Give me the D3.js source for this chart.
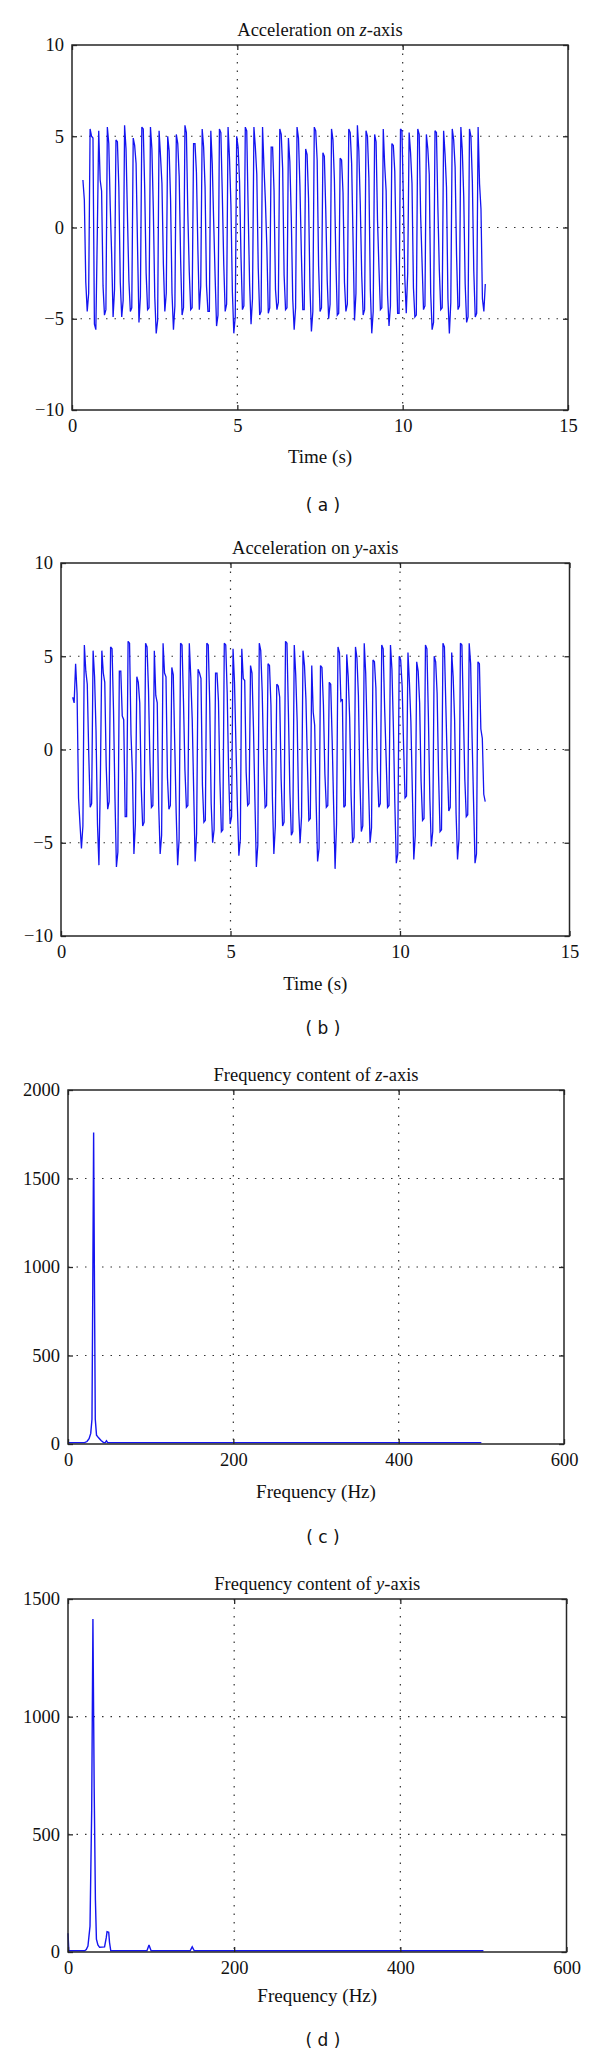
<!DOCTYPE html>
<html>
<head>
<meta charset="utf-8">
<script src="https://cdn.jsdelivr.net/npm/d3@7"></script>
<style>
  body { margin: 0; background: #fff; }
  svg { display: block; }
</style>
</head>
<body>
<div id="chart"></div>
<script>
// ---- data ----

// time axis ticks (a, b)
const timeTicks = [0, 5, 10, 15];
const accelTicks = [-10, -5, 0, 5, 10];
// frequency axis ticks (c, d)
const freqTicks = [0, 200, 400, 600];
const zFreqTicks = [0, 500, 1000, 1500, 2000];
const yFreqTicks = [0, 500, 1000, 1500];

// acceleration on z-axis, sampled every zDt seconds starting at zT0
const zT0 = 0.33;
const zDt = 0.04346;
const zAccel = [
  2.6, 1.5, -3.0, -4.6, -3.6,
  5.4, 5.0, 4.9, -5.3, -5.6, -0.4,
  5.3, 2.6, 2.0, -3.2, -4.8, -4.5,
  5.5, 4.6, 1.2, -1.5, -4.9, -3.4,
  4.8, 4.7, 2.2, -3.0, -4.9, -4.0,
  5.6, 4.3, 0.6, -2.9, -4.6, -4.4,
  4.9, 4.5, 3.5, -1.0, -5.2, -3.8,
  5.5, 5.4, 2.1, -2.5, -4.5, -4.4,
  5.5, 4.3, 1.0, -3.8, -5.8, -5.1,
  5.3, 3.9, 2.4, -2.0, -4.6, -3.6,
  5.0, 4.2, 1.5, -3.6, -5.6, -4.3,
  5.1, 4.6, 2.8, -1.8, -4.8, -4.4,
  5.6, 5.2, 0.8, -2.4, -4.5, -4.4,
  4.6, 4.6, 3.0, -1.2, -4.5, -3.2,
  5.4, 4.4, 2.2, -3.2, -4.6, -4.6,
  5.3, 3.5, 0.3, -2.7, -5.4, -4.8,
  5.4, 5.2, 1.8, -2.0, -4.6, -4.2,
  5.5, 3.8, 1.2, -3.5, -5.8, -4.9,
  5.0, 4.4, 2.5, -1.6, -4.5, -4.3,
  5.5, 5.3, 0.9, -3.1, -5.3, -3.9,
  5.5, 4.4, 2.9, -2.2, -4.8, -4.6,
  5.5, 3.3, 1.4, -1.1, -4.7, -4.4,
  4.4, 4.4, 2.0, -3.4, -4.5, -4.1,
  5.4, 5.1, 3.2, -2.6, -4.5, -4.4,
  4.9, 3.6, 0.5, -3.9, -5.6, -4.4,
  5.5, 4.9, 2.3, -1.4, -4.5, -4.5,
  4.3, 4.0, 1.6, -3.3, -5.7, -4.6,
  5.5, 5.3, 3.7, -2.1, -4.6, -4.4,
  4.1, 3.9, 0.9, -2.9, -5.0, -4.2,
  5.4, 4.8, 2.6, -1.7, -4.8, -4.7,
  3.8, 3.7, 1.9, -3.0, -4.6, -4.2,
  5.4, 5.2, 3.5, -0.8, -5.1, -3.6,
  5.6, 4.2, 1.3, -2.6, -4.8, -4.5,
  5.3, 5.0, 2.7, -3.4, -5.8, -4.6,
  5.1, 4.7, 0.4, -2.2, -4.5, -4.4,
  5.4, 3.4, 2.0, -3.7, -5.4, -4.3,
  4.6, 4.5, 3.1, -1.3, -4.7, -4.7,
  5.4, 5.3, 1.5, -2.8, -4.7, -2.5,
  5.2, 4.1, 2.4, -3.3, -4.9, -4.8,
  5.4, 5.1, 0.7, -1.9, -4.5, -4.3,
  5.1, 4.3, 2.9, -3.6, -5.6, -5.2,
  5.3, 5.2, 1.1, -2.3, -4.5, -4.4,
  5.3, 4.0, 2.2, -3.9, -5.8, -4.1,
  5.4, 4.8, 3.3, -1.5, -4.5, -4.3,
  5.5, 4.2, 1.7, -3.1, -5.2, -4.9,
  5.4, 5.0, 2.5, -2.4, -4.9, -4.7,
  5.5, 2.4, 1.0, -3.9, -4.6, -3.1
];

// acceleration on y-axis
const yT0 = 0.345;
const yDt = 0.043;
const yAccel = [
  2.8, 2.5,
  4.6, 3.0, -2.6, -4.0, -5.3, -4.1,
  5.6, 4.2, 3.5, -0.2, -3.1, -2.9,
  5.3, 3.9, 1.0, -4.0, -6.2, -1.5,
  5.3, 4.1, 3.6, -0.9, -3.2, -2.8,
  5.5, 5.4, 2.1, -2.6, -6.3, -5.5,
  4.2, 4.2, 1.8, 1.6, -3.6, -3.6,
  5.8, 5.7, 0.8, -1.3, -5.6, -4.0,
  3.9, 3.6, 2.5, -2.0, -4.1, -3.9,
  5.7, 5.5, 3.2, -0.7, -3.1, -3.0,
  5.3, 2.9, 2.5, -3.0, -5.6, -4.6,
  5.7, 4.1, 3.9, -1.5, -3.2, -3.0,
  4.4, 4.0, 0.3, -3.4, -6.2, -4.8,
  5.7, 5.6, 2.6, -1.1, -3.1, -3.0,
  5.7, 3.9, 1.6, -2.2, -6.0, -4.5,
  4.3, 4.1, 3.8, -1.9, -3.9, -3.8,
  5.7, 5.6, 2.5, -2.9, -5.0, -4.3,
  4.1, 4.1, 2.6, -1.7, -4.4, -4.3,
  5.7, 5.6, 3.0, -1.4, -4.0, -3.6,
  5.4, 3.6, 0.2, -3.1, -5.7, -4.8,
  5.4, 3.8, 3.7, -1.2, -3.0, -2.9,
  4.5, 4.1, 1.2, -2.7, -6.3, -5.1,
  5.7, 5.3, 3.1, -0.6, -3.1, -3.0,
  4.6, 4.5, 2.4, -2.6, -5.6, -4.1,
  3.5, 3.4, 2.8, -1.6, -4.1, -3.9,
  5.8, 5.7, 1.9, -2.3, -4.6, -4.4,
  5.6, 4.0, 1.5, -3.2, -5.0, -3.6,
  5.3, 4.5, 2.7, -0.7, -3.8, -3.7,
  4.5, 2.0, 1.3, -2.8, -6.0, -5.3,
  4.5, 4.4, 2.4, -1.3, -3.1, -3.0,
  3.6, 3.5, 0.5, -3.0, -6.4, -4.0,
  5.5, 5.2, 2.6, 2.7, -3.1, -3.0,
  5.1, 3.9, 1.7, -2.5, -5.0, -4.7,
  5.5, 4.9, 2.9, -1.6, -4.4, -4.1,
  5.7, 4.1, 0.9, -2.1, -5.0, -4.2,
  4.8, 4.7, 3.3, -1.1, -3.1, -2.9,
  5.6, 5.4, 2.2, -0.4, -3.1, -3.0,
  5.6, 4.3, 1.2, -2.9, -6.1, -5.6,
  5.0, 4.8, 3.4, 0.2, -2.6, -2.5,
  5.2, 3.6, 1.5, -2.2, -5.9, -4.6,
  4.7, 4.2, 2.5, -1.7, -3.8, -3.7,
  5.6, 5.4, 1.8, -2.6, -5.2, -4.4,
  5.0, 4.7, 3.0, -1.4, -4.4, -4.3,
  5.7, 5.5, 2.3, -0.9, -3.3, -3.1,
  5.2, 3.9, 1.6, -3.4, -5.9, -4.8,
  5.7, 5.6, 2.1, -1.6, -3.6, -3.5,
  5.7, 4.6, 0.6, -2.8, -6.1, -5.6,
  4.7, 4.6, 1.1, 0.6, -2.4, -2.8
];

// frequency content (Hz, magnitude)
const zSpectrumHz = [0, 20, 23, 25.5, 27.5, 29, 30, 31, 32, 33, 34.5, 37, 40, 43, 45, 46.5, 48, 500];
const zSpectrumMag = [8, 8, 14, 30, 60, 140, 900, 1760, 900, 140, 50, 35, 20, 8, 8, 18, 8, 8];

const ySpectrumHz = [0, 1, 20, 22, 24, 26.5, 28.5, 30, 31.5, 33, 34.2, 36, 38, 44, 46, 47, 49, 50, 51.5, 95, 97.5, 100, 147, 149.5, 152, 500];
const ySpectrumMag = [80, 5, 5, 10, 25, 110, 600, 1415, 700, 220, 55, 30, 20, 22, 60, 86, 84, 40, 5, 5, 30, 5, 5, 22, 5, 5];

// ---- drawing ----
const svg = d3.select('#chart').append('svg')
  .attr('width', 600)
  .attr('height', 2057);

const serif = '"Liberation Serif", "Times New Roman", serif';
const lineBlue = '#1414f0';
const tickFmt = d3.format('d'); // no thousands comma, true minus sign

function drawPanel(p) {
  const x = d3.scaleLinear().domain(p.xDomain).range([p.left, p.right]);
  const y = d3.scaleLinear().domain(p.yDomain).range([p.bottom, p.top]);
  const g = svg.append('g');

  // dotted grid on the inner ticks
  g.selectAll('.vgrid')
    .data(p.xTicks.slice(1, -1))
    .enter().append('line')
    .attr('x1', d => x(d)).attr('x2', d => x(d))
    .attr('y1', p.top).attr('y2', p.bottom)
    .attr('stroke', '#333')
    .attr('stroke-width', 1.2)
    .attr('stroke-dasharray', '1.5,7');

  g.selectAll('.hgrid')
    .data(p.yTicks.slice(1, -1))
    .enter().append('line')
    .attr('x1', p.left).attr('x2', p.right)
    .attr('y1', d => y(d)).attr('y2', d => y(d))
    .attr('stroke', '#333')
    .attr('stroke-width', 1.2)
    .attr('stroke-dasharray', '1.5,7');

  // the signal
  g.append('path')
    .datum(p.points)
    .attr('fill', 'none')
    .attr('stroke', lineBlue)
    .attr('stroke-width', p.lineWidth)
    .attr('stroke-linejoin', 'miter')
    .attr('stroke-miterlimit', 3)
    .attr('d', d3.line().x(d => x(d[0])).y(d => y(d[1])));

  // axes, ticks pointing inward (matlab style)
  const bottomAxis = g.append('g')
    .attr('transform', `translate(0,${p.bottom})`)
    .call(d3.axisBottom(x).tickValues(p.xTicks).tickFormat(tickFmt)
      .tickSizeInner(-5).tickSizeOuter(0).tickPadding(9));
  const leftAxis = g.append('g')
    .attr('transform', `translate(${p.left},0)`)
    .call(d3.axisLeft(y).tickValues(p.yTicks).tickFormat(tickFmt)
      .tickSizeInner(-5).tickSizeOuter(0).tickPadding(8));
  g.append('g')
    .attr('transform', `translate(0,${p.top})`)
    .call(d3.axisTop(x).tickValues(p.xTicks).tickSizeInner(-5).tickSizeOuter(0).tickFormat(''));
  g.append('g')
    .attr('transform', `translate(${p.right},0)`)
    .call(d3.axisRight(y).tickValues(p.yTicks).tickSizeInner(-5).tickSizeOuter(0).tickFormat(''));

  g.selectAll('.domain').remove();
  g.selectAll('.tick line').attr('stroke', '#262626').attr('stroke-width', 1.3);
  [bottomAxis, leftAxis].forEach(a => a.selectAll('text')
    .style('font-family', serif)
    .style('font-size', '18.5px')
    .attr('fill', '#111'));

  // box
  g.append('rect')
    .attr('x', p.left).attr('y', p.top)
    .attr('width', p.right - p.left).attr('height', p.bottom - p.top)
    .attr('fill', 'none')
    .attr('stroke', '#262626')
    .attr('stroke-width', 1.5);

  const cx = (p.left + p.right) / 2;

  // title with italic axis letter
  const title = g.append('text')
    .attr('x', cx).attr('y', p.top - 15)
    .attr('dy', '0.35em')
    .attr('text-anchor', 'middle')
    .style('font-family', serif)
    .style('font-size', '18.5px')
    .attr('fill', '#111');
  title.append('tspan').text(p.title[0]);
  title.append('tspan').style('font-style', 'italic').text(p.title[1]);
  title.append('tspan').text(p.title[2]);

  g.append('text')
    .attr('x', cx).attr('y', p.bottom + p.labelGap)
    .attr('dy', '0.35em')
    .attr('text-anchor', 'middle')
    .style('font-family', serif)
    .style('font-size', '19px')
    .attr('fill', '#111')
    .text(p.xLabel);

  g.append('text')
    .attr('x', 323).attr('y', p.bottom + p.captionGap)
    .attr('dy', '0.35em')
    .attr('text-anchor', 'middle')
    .style('font-family', '"DejaVu Sans", sans-serif')
    .style('font-size', '17px')
    .attr('fill', '#111')
    .text(p.caption);
}

drawPanel({
  left: 72, right: 568, top: 45, bottom: 410,
  xDomain: [0, 15], xTicks: timeTicks,
  yDomain: [-10, 10], yTicks: accelTicks,
  points: zAccel.map((v, i) => [zT0 + i * zDt, v]),
  lineWidth: 1.3,
  title: ['Acceleration on ', 'z', '-axis'],
  xLabel: 'Time (s)', labelGap: 46, captionGap: 95,
  caption: '( a )'
});

drawPanel({
  left: 61, right: 569.5, top: 563, bottom: 936,
  xDomain: [0, 15], xTicks: timeTicks,
  yDomain: [-10, 10], yTicks: accelTicks,
  points: yAccel.map((v, i) => [yT0 + i * yDt, v]),
  lineWidth: 1.3,
  title: ['Acceleration on ', 'y', '-axis'],
  xLabel: 'Time (s)', labelGap: 47, captionGap: 92,
  caption: '( b )'
});

drawPanel({
  left: 68, right: 564, top: 1090, bottom: 1444,
  xDomain: [0, 600], xTicks: freqTicks,
  yDomain: [0, 2000], yTicks: zFreqTicks,
  points: zSpectrumHz.map((f, i) => [f, zSpectrumMag[i]]),
  lineWidth: 1.4,
  title: ['Frequency content of ', 'z', '-axis'],
  xLabel: 'Frequency (Hz)', labelGap: 47, captionGap: 93,
  caption: '( c )'
});

drawPanel({
  left: 68, right: 566.5, top: 1599, bottom: 1952,
  xDomain: [0, 600], xTicks: freqTicks,
  yDomain: [0, 1500], yTicks: yFreqTicks,
  points: ySpectrumHz.map((f, i) => [f, ySpectrumMag[i]]),
  lineWidth: 1.4,
  title: ['Frequency content of ', 'y', '-axis'],
  xLabel: 'Frequency (Hz)', labelGap: 43, captionGap: 88,
  caption: '( d )'
});
</script>
</body>
</html>
